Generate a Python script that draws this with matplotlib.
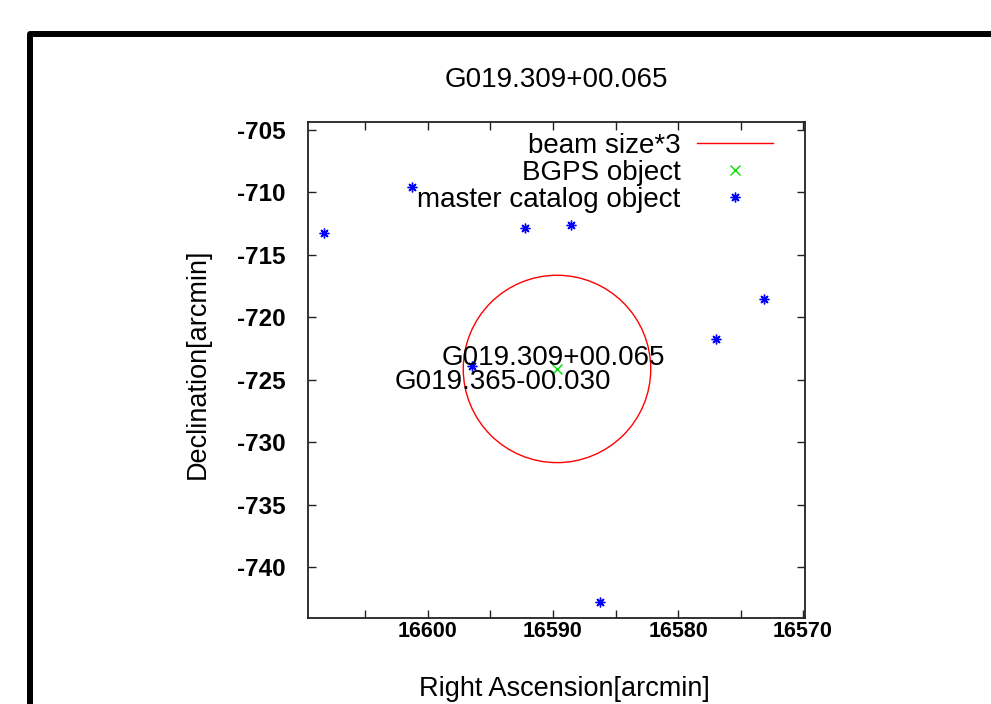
import matplotlib
matplotlib.use("Agg")
import matplotlib.pyplot as plt
from matplotlib.patches import Circle, Rectangle
from matplotlib.lines import Line2D

plt.rcParams['font.family'] = ['Liberation Sans', 'DejaVu Sans']

title = "G019.309+00.065"

# master catalog objects (RA, Dec in arcmin)
master_ra = [16608.3, 16601.26, 16592.24, 16588.58, 16573.12, 16577.0, 16596.46, 16586.24]
master_dec = [-713.27, -709.59, -712.87, -712.61, -718.5, -721.71, -723.9, -742.77]

# BGPS object
bgps_ra = [16589.65]
bgps_dec = [-724.1]

# beam size * 3 circle
beam_center = (16589.68, -724.13)
beam_radius = 7.5

# text labels
label_names = ["G019.309+00.065", "G019.365-00.030"]
label_ra = [16590.0, 16594.04]
label_dec = [-723.81, -725.74]

xticks_major = [16600, 16590, 16580, 16570]
xticks_minor = [16605, 16595, 16585, 16575]
yticks = [-705, -710, -715, -720, -725, -730, -735, -740]

fig = plt.figure(figsize=(9.91, 7.04), dpi=100)
ax = fig.add_axes([308/991, 1-618/704, 497/991, 496/704])

circ = Circle(beam_center, beam_radius, fill=False, edgecolor='#ff0000', lw=1.0)
ax.add_patch(circ)

ax.plot(bgps_ra, bgps_dec, linestyle='none', marker='x', color='#00e000',
        markersize=6.5, markeredgewidth=1.0)
ax.plot(master_ra, master_dec, linestyle='none', marker=(8, 2, 0), color='#0000ff',
        markersize=7, markeredgewidth=1.0)

for name, x, y in zip(label_names, label_ra, label_dec):
    ax.text(x, y, name, ha='center', va='baseline', fontsize=20, color='black')

ax.set_xlim(16609.6, 16569.84)
ax.set_ylim(-744.07, -704.36)

ax.set_xticks(xticks_major)
ax.set_xticks(xticks_minor, minor=True)
ax.set_yticks(yticks)
ax.set_xticklabels([str(v) for v in xticks_major], fontsize=15.5, fontweight='bold')
ax.set_yticklabels([str(v) for v in yticks], fontsize=17.5, fontweight='bold')

ax.tick_params(which='both', direction='in', top=True, right=True, length=6, width=1.0,
               color='#222222')
ax.tick_params(axis='x', pad=2)
ax.tick_params(axis='y', pad=16)
for s in ax.spines.values():
    s.set_linewidth(1.3)
    s.set_color('#222222')

ax.set_xlabel("Right Ascension[arcmin]", fontsize=19.5, labelpad=25)
ax.set_ylabel("Declination[arcmin]", fontsize=19.5, labelpad=19)
ax.xaxis.label.set_x(0.515)
ax.yaxis.label.set_y(0.513)
ax.set_title(title, fontsize=20, pad=25)

handles = [
    Line2D([], [], color='#ff0000', lw=1.0),
    Line2D([], [], color='#00e000', linestyle='none', marker='x', markersize=6.5),
    Line2D([], [], color='#0000ff', linestyle='none', marker=(8, 2, 0), markersize=7),
]
labels = ["beam size*3", "BGPS object", "master catalog object"]
leg = ax.legend(handles, labels, loc='upper right', bbox_to_anchor=((773-308)/497, 0.978),
                frameon=False, markerfirst=False, fontsize=20, borderpad=0,
                borderaxespad=0, handlelength=2.73, handletextpad=0.6, labelspacing=0.04)

top = 1 - 34/704
frame = Rectangle((30/991, -0.2), 1.2, top + 0.2, transform=fig.transFigure,
                  fill=False, edgecolor='black', lw=4.3, joinstyle='round', clip_on=False)
fig.add_artist(frame)

fig.savefig("out.png", dpi=100)
